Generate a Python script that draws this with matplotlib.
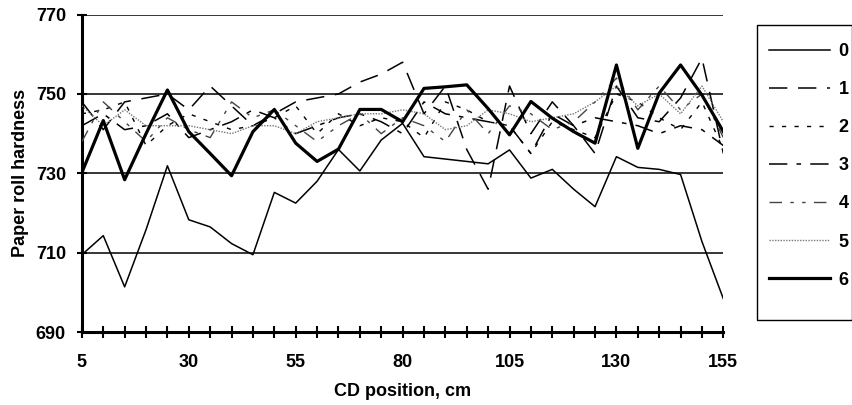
import numpy as np
import matplotlib.pyplot as plt
from matplotlib.patches import Rectangle

plt.rcParams["font.family"] = ["Liberation Sans", "DejaVu Sans"]

# CD positions (cm)
cd_pos = list(range(5, 160, 5))

# paper roll hardness per series
s0 = [709.5, 714.3, 701.4, 715.8, 731.9, 718.3, 716.5, 712.3, 709.5, 725.2, 722.5,
      728.0, 736.0, 730.6, 738.4, 742.6, 734.2, 733.6, 733.0, 732.4, 735.9,
      728.8, 731.0, 726.0, 721.6, 734.2, 731.5, 731.0, 729.7, 712.8, 698.4]
s1 = [748, 741, 748, 749, 750, 746, 752, 747, 742, 745, 748, 749, 750, 753, 755, 758,
      745, 752, 736, 726, 752, 740, 748, 742, 735, 752, 744, 743, 749, 759, 735]
s2 = [745, 746, 748, 737, 742, 745, 743, 741, 742, 744, 747, 740, 745, 742, 744, 743,
      739, 748, 746, 743, 742, 735, 743, 741, 739, 750, 748, 744, 741, 748, 736]
s3 = [742, 745, 741, 742, 745, 739, 741, 743, 746, 744, 740, 742, 744, 745, 743, 740,
      748, 745, 744, 743, 742, 735, 745, 742, 744, 743, 742, 740, 742, 741, 737]
s4 = [738, 748, 743, 738, 744, 741, 739, 748, 744, 746, 742, 738, 742, 745, 740, 744,
      742, 738, 746, 740, 747, 745, 741, 743, 748, 754, 746, 752, 746, 750, 739]
s5 = [747, 742, 746, 742, 742, 742, 741, 740, 742, 742, 740, 743, 744, 745, 745, 746,
      745, 741, 742, 746, 745, 743, 744, 745, 748, 752, 747, 750, 745, 752, 743]
s6 = [730.2, 743.3, 728.4, 740.0, 751.0, 740.5, 735.0, 729.4, 740.5, 746.1, 737.6,
      733.0, 736.1, 746.1, 746.1, 743.0, 751.4, 751.8, 752.3, 746.3, 739.7,
      748.1, 743.9, 740.5, 737.6, 757.3, 736.3, 750.2, 757.3, 749.7, 740.5]

series = [("0", s0), ("1", s1), ("2", s2), ("3", s3), ("4", s4), ("5", s5), ("6", s6)]
styles = {
    "0": dict(lw=1.1, ls="-", color="black"),
    "1": dict(lw=1.1, ls=(0, (12, 7)), color="black"),
    "2": dict(lw=1.0, ls=(0, (3, 6)), color="black"),
    "3": dict(lw=1.1, ls=(0, (12, 6, 3, 6)), color="black"),
    "4": dict(lw=1.0, ls=(0, (9, 6, 2.5, 6, 2.5, 6)), color="#444444"),
    "5": dict(lw=1.0, ls=(0, (1, 1)), color="#777777"),
    "6": dict(lw=2.3, ls="-", color="black"),
}
FS = 13

fig = plt.figure(figsize=(8.53, 4.05), dpi=100)
ax = fig.add_axes([0.096, 0.18, 0.752, 0.784])

for y in [710, 730, 750, 770]:
    ax.axhline(y, color="black", lw=1.1, zorder=1)

for name, vals in series:
    ax.plot(cd_pos, vals, label=name, zorder=3, **styles[name])

ax.set_xlim(5, 155)
ax.set_ylim(690, 770)
ax.set_xticks(range(5, 160, 25))
ax.set_xticks(range(5, 160, 5), minor=True)
ax.set_yticks(range(690, 771, 20))

for s in ["top", "right"]:
    ax.spines[s].set_visible(False)
ax.spines["left"].set_linewidth(2.2)
ax.spines["bottom"].set_linewidth(2.2)

ax.tick_params(axis="x", which="both", direction="inout", length=9, width=1.5, pad=11)
ax.tick_params(axis="y", which="major", direction="inout", length=7, width=1.5, pad=8)
for lab in ax.get_xticklabels() + ax.get_yticklabels():
    lab.set_fontweight("bold")
    lab.set_fontsize(FS)

ax.set_xlabel("CD position, cm", fontsize=FS, fontweight="bold", labelpad=9)
ax.set_ylabel("Paper roll hardness", fontsize=FS, fontweight="bold", labelpad=5)

leg = fig.legend(loc="upper left", bbox_to_anchor=(769 / 853, 0.894), frameon=False,
                 handlelength=3.4, labelspacing=1.17, borderpad=0.0,
                 handletextpad=0.45, borderaxespad=0.0,
                 prop=dict(weight="bold", size=FS))
fig.patches.append(Rectangle((757 / 853, 1 - 320 / 405), 95 / 853, 295 / 405,
                             transform=fig.transFigure, fill=False,
                             edgecolor="black", lw=1.0))

fig.savefig("out.png", dpi=100)
